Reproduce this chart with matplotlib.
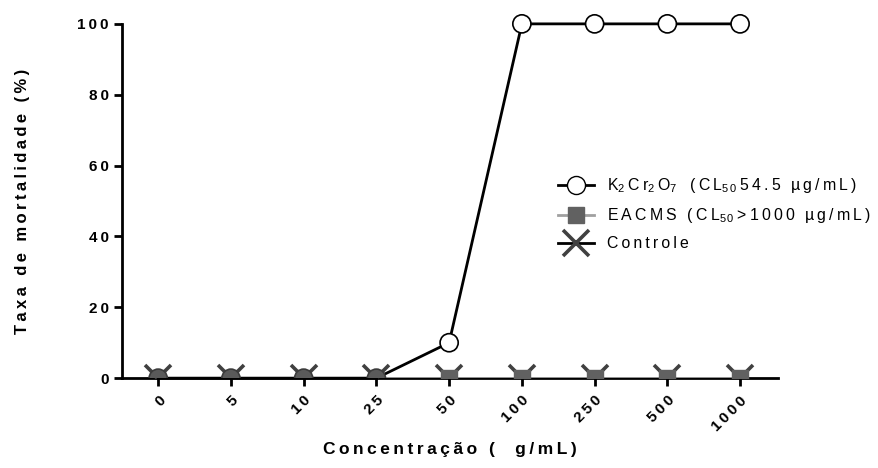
import matplotlib.pyplot as plt
import numpy as np

plt.rcParams['font.family'] = ['Liberation Sans', 'DejaVu Sans']
plt.rcParams['mathtext.fontset'] = 'custom'
plt.rcParams['mathtext.rm'] = 'Liberation Sans'
plt.rcParams['mathtext.it'] = 'Liberation Sans'

concentracoes = ['0', '5', '10', '25', '50', '100', '250', '500', '1000']
k2cr2o7 = [0, 0, 0, 0, 10, 100, 100, 100, 100]
eacms = [0, 0, 0, 0, 0, 0, 0, 0, 0]
controle = [0, 0, 0, 0, 0, 0, 0, 0, 0]

GAP = '\u2009'


def spaced(s, gap=GAP):
    # imitate the wide letter spacing of the original
    return gap.join(s)


def main():
    x = np.arange(len(concentracoes))
    fig, ax = plt.subplots(figsize=(8.79, 4.68), dpi=100)
    fig.subplots_adjust(left=0.139, right=0.885, bottom=0.192, top=0.949)

    # controle: X markers in dark gray
    ax.plot(x, controle, linestyle='none', marker='x', markersize=19,
            markeredgewidth=2.6, color='#404040', zorder=3)
    # EACMS: gray line + squares
    ax.plot(x[3:], eacms[3:], color='#a0a0a0', linewidth=2, zorder=4)
    ax.plot(x[4:], eacms[4:], linestyle='none', marker='s', markersize=11.5,
            color='#616161', zorder=5)
    # K2Cr2O7
    ax.plot(x, k2cr2o7, color='black', linewidth=2, zorder=6, clip_on=False)
    faces = ['#5a5a5a' if v == 0 else 'white' for v in k2cr2o7]
    ax.scatter(x[:4], k2cr2o7[:4], s=170, facecolors=faces[:4],
               edgecolors='#3c3c3c', linewidths=1.2, zorder=6)
    ax.scatter(x[4:], k2cr2o7[4:], s=170, facecolors=faces[4:],
               edgecolors='black', linewidths=1.2, zorder=7, clip_on=False)

    ax.set_xlim(-0.495, 8.52)
    ax.set_ylim(0, 100)
    yt = [0, 20, 40, 60, 80, 100]
    ax.set_yticks(yt)
    ax.set_yticklabels([spaced(str(v)) for v in yt], fontsize=11, fontweight='bold')
    ax.set_xticks(x)
    ax.set_xticklabels([spaced(c) for c in concentracoes], rotation=45, ha='right',
                       rotation_mode='anchor', fontsize=11, fontweight='bold')
    for s in ['top', 'right']:
        ax.spines[s].set_visible(False)
    for s in ['left', 'bottom']:
        ax.spines[s].set_linewidth(2)
    ax.spines['bottom'].set_zorder(2)
    ax.tick_params(width=2, length=6, direction='out')
    ax.tick_params(axis='x', pad=5)

    ax.set_xlabel(spaced('Concentração (  g/mL)'), fontsize=12.5, fontweight='bold', labelpad=6)
    ax.set_ylabel(spaced('Taxa de mortalidade (%)'), fontsize=12, fontweight='bold', labelpad=34)

    h1, = ax.plot([], [], color='black', linewidth=2, marker='o', markersize=13,
                  markerfacecolor='white', markeredgecolor='black')
    h2, = ax.plot([], [], color='#a0a0a0', linewidth=2, marker='s', markersize=11.5,
                  markerfacecolor='#616161', markeredgecolor='#616161')
    h3, = ax.plot([], [], color='black', linewidth=2, marker='x', markersize=19,
                  markeredgewidth=2.6, markeredgecolor='#404040', linestyle='-')
    labels = ['K$_2$' + GAP + 'C' + GAP + 'r$_2$' + GAP + 'O$_7$' + '   ' +
              spaced('(CL') + '$_{5\\,0}$' + GAP + spaced('54.5 µg/mL)'),
              spaced('EACMS (CL') + '$_{5\\,0}$' + GAP + spaced('>1000 µg/mL)'),
              spaced('Controle')]
    ax.legend([h1, h2, h3], labels,
              loc='upper left', bbox_to_anchor=(0.643, 0.61), frameon=False,
              fontsize=11.4, handlelength=2.3, handletextpad=0.8, labelspacing=0.7)

    fig.savefig('out.png', dpi=100)


if __name__ == "__main__":
    main()
